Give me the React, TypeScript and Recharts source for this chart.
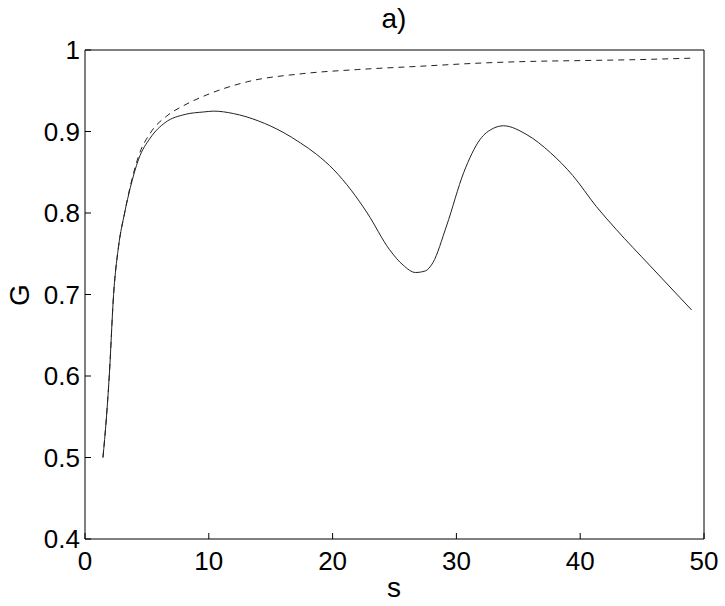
import React from "react";
import { Line, LineChart, ReferenceArea, XAxis, YAxis } from "recharts";

// solid curve G(s)
const solidS = [1.45, 1.72, 1.96, 2.31, 2.71, 3.2, 3.66, 4.33, 5.27, 6.48, 8.1, 9.6, 10.4, 12, 14, 16, 17.4, 18.7, 20.1, 21.5, 22.8, 24.6, 25.7, 26.7, 27.5, 28.1, 29.2, 30.6, 31.9, 33, 33.8, 35.7, 37.6, 39.4, 41.3, 42.9, 45.6, 49];
const solidG = [0.5, 0.547, 0.6, 0.7, 0.759, 0.8, 0.831, 0.866, 0.892, 0.911, 0.921, 0.924, 0.925, 0.922, 0.913, 0.899, 0.886, 0.872, 0.853, 0.828, 0.8, 0.755, 0.736, 0.727, 0.729, 0.739, 0.784, 0.85, 0.89, 0.904, 0.907, 0.896, 0.874, 0.846, 0.808, 0.78, 0.736, 0.681];

// dashed curve
const dashS = [1.45, 1.72, 1.96, 2.31, 2.71, 3.2, 3.66, 4.33, 5.27, 6.6, 8, 9.85, 13.1, 17.6, 22, 27, 32, 36, 40, 44, 49];
const dashG = [0.5, 0.547, 0.6, 0.7, 0.759, 0.8, 0.833, 0.87, 0.898, 0.919, 0.932, 0.945, 0.961, 0.971, 0.976, 0.98, 0.984, 0.986, 0.987, 0.988, 0.99];

const xTicks = [0, 10, 20, 30, 40, 50];
const yTicks = [0.4, 0.5, 0.6, 0.7, 0.8, 0.9, 1];

const solid = solidS.map((s, i) => ({ s, g: solidG[i] }));
const dashed = dashS.map((s, i) => ({ s, g: dashG[i] }));

const font = "'Liberation Sans', Arial, sans-serif";
const T = 6; // inward tick length

// matlab-style ticks: short mark pointing into the box, label outside
const BottomTick = ({ x, y, payload }: any) => (
  <g>
    <line x1={x} y1={y} x2={x} y2={y - T} stroke="#000" />
    <text x={x} y={y + 31} textAnchor="middle" fontSize={26} fontFamily={font} fill="#000">{payload.value}</text>
  </g>
);
const LeftTick = ({ x, y, payload }: any) => (
  <g>
    <line x1={x} y1={y} x2={x + T} y2={y} stroke="#000" />
    <text x={x - 5} y={y + 9} textAnchor="end" fontSize={26} fontFamily={font} fill="#000">{payload.value}</text>
  </g>
);
const TopTick = ({ x, y }: any) => <line x1={x} y1={y} x2={x} y2={y + T} stroke="#000" />;
const RightTick = ({ x, y }: any) => <line x1={x} y1={y} x2={x - T} y2={y} stroke="#000" />;

export default function App() {
  return (
    <div style={{ position: "absolute", left: 0, top: 0, width: 725, height: 606, background: "#fff" }}>
      <LineChart width={725} height={606} margin={{ top: 50, right: 21, bottom: 0, left: 0 }}>
        <XAxis xAxisId="b" type="number" dataKey="s" domain={[0, 50]} ticks={xTicks} orientation="bottom" height={67}
          tickSize={0} tickMargin={0} axisLine={false} tickLine={false} tick={BottomTick} />
        <XAxis xAxisId="t" type="number" dataKey="s" domain={[0, 50]} ticks={xTicks} orientation="top" height={0}
          tickSize={0} tickMargin={0} axisLine={false} tickLine={false} tick={TopTick} />
        <YAxis yAxisId="l" type="number" domain={[0.4, 1]} ticks={yTicks} width={85} orientation="left"
          tickSize={0} tickMargin={0} axisLine={false} tickLine={false} tick={LeftTick} />
        <YAxis yAxisId="r" type="number" domain={[0.4, 1]} ticks={yTicks} width={0} orientation="right"
          tickSize={0} tickMargin={0} axisLine={false} tickLine={false} tick={RightTick} />
        <ReferenceArea xAxisId="b" yAxisId="l" x1={0} x2={50} y1={0.4} y2={1} fill="none" stroke="#000" strokeWidth={1} />
        <Line xAxisId="t" yAxisId="r" data={solid} dataKey="g" type="monotone" stroke="none"
          dot={false} isAnimationActive={false} />
        <Line xAxisId="b" yAxisId="l" data={dashed} dataKey="g" type="monotone" stroke="#222" strokeWidth={1}
          strokeDasharray="6 5" dot={false} isAnimationActive={false} />
        <Line xAxisId="b" yAxisId="l" data={solid} dataKey="g" type="monotone" stroke="#222" strokeWidth={1}
          dot={false} isAnimationActive={false} />
      </LineChart>
      <svg width={725} height={606} style={{ position: "absolute", left: 0, top: 0, pointerEvents: "none" }}>
        <text x={394} y={28} textAnchor="middle" fontSize={28} fontFamily={font}>a)</text>
        <text x={394} y={597} textAnchor="middle" fontSize={28} fontFamily={font}>s</text>
        <text x={29} y={295} textAnchor="middle" fontSize={28} fontFamily={font} transform="rotate(-90 29 295)">G</text>
      </svg>
    </div>
  );
}
